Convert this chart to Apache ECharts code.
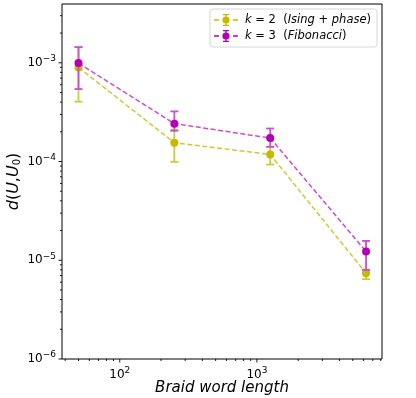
<!DOCTYPE html>
<html><head><meta charset="utf-8">
<script src="https://cdn.jsdelivr.net/npm/echarts@6/dist/echarts.min.js"></script>
<style>html,body{margin:0;padding:0;background:#fff}#c{width:416px;height:398px}</style>
</head><body><div id="c"></div>
<script>
const braidLengths = [50, 250, 1250, 6250];
const k2Values = [0.000897, 0.000155, 0.000118, 0.0000074];
const k2Low = [0.000404, 0.0000993, 0.0000933, 0.00000643];
const k2High = [0.00144, 0.000209, 0.000141, 0.00000798];
const k3Values = [0.000993, 0.000242, 0.000173, 0.0000123];
const k3Low = [0.000542, 0.000205, 0.000141, 0.00000798];
const k3High = [0.00144, 0.000322, 0.000216, 0.0000157];
const xMajorTicks = [100, 1000];
const xMinorTicks = [40, 50, 60, 70, 80, 90, 200, 300, 400, 500, 600, 700, 800, 900, 2000, 3000, 4000, 5000, 6000, 7000, 8000];
const yMajorTicks = [1e-6, 1e-5, 1e-4, 1e-3];
const yMinorTicks = [];
for (let e = -6; e <= -3; e++) for (let m = 2; m <= 9; m++) { const v = m * Math.pow(10, e); if (v < 0.0039) yMinorTicks.push(v); }

const X_MIN = 37.9, X_MAX = 8170, Y_MIN = 1e-6, Y_MAX = 0.00394;
const FONT = 'DejaVu Sans';
const k2Color = '#c8b800', k2Light = '#cccc33';
const k3Color = '#b400b4', k3Light = '#d04cd0';

function isPow10(v) { const l = Math.log10(v); return Math.abs(l - Math.round(l)) < 1e-6; }
function powLabel(v) {
  if (!isPow10(v)) return '';
  const e = Math.round(Math.log10(v));
  return '10{sup|' + String(e).replace('-', '\u2212') + '}';
}
const supRich = { sup: { fontSize: 9, fontFamily: FONT, color: '#000', padding: [0, 0, 8, 0] } };

function errData(xs, lo, hi) { return xs.map((x, i) => [x, lo[i], hi[i]]); }
function errRender(color) {
  return function (params, api) {
    const x = api.value(0);
    const p1 = api.coord([x, api.value(1)]);
    const p2 = api.coord([x, api.value(2)]);
    const w = 4;
    const st = { stroke: color, lineWidth: 1.8 };
    return { type: 'group', children: [
      { type: 'line', shape: { x1: p1[0], y1: p1[1], x2: p2[0], y2: p2[1] }, style: st },
      { type: 'line', shape: { x1: p1[0] - w, y1: p1[1], x2: p1[0] + w, y2: p1[1] }, style: st },
      { type: 'line', shape: { x1: p2[0] - w, y1: p2[1], x2: p2[0] + w, y2: p2[1] }, style: st }
    ]};
  };
}
function tickRender(axis) {
  return function (params, api) {
    const cs = params.coordSys;
    const v = api.value(0), len = api.value(1);
    let shape;
    if (axis === 'x') {
      const p = api.coord([v, Y_MIN]);
      shape = { x1: p[0], y1: cs.y + cs.height, x2: p[0], y2: cs.y + cs.height + len };
    } else {
      const p = api.coord([X_MIN, v]);
      shape = { x1: cs.x, y1: p[1], x2: cs.x - len, y2: p[1] };
    }
    return { type: 'line', shape: shape, style: { stroke: '#000', lineWidth: 0.9 } };
  };
}

const iconPath = 'path://M11.3 0 H12.7 V12 H11.3 Z M9 0 H15 V1.3 H9 Z M9 10.7 H15 V12 H9 Z M8.4 6 A3.6 3.6 0 1 1 15.6 6 A3.6 3.6 0 1 1 8.4 6 Z M0 5.3 H5 V6.7 H0 Z M19 5.3 H24 V6.7 H19 Z';

const chart = echarts.init(document.getElementById('c'));
chart.setOption({
  animation: false,
  backgroundColor: '#fff',
  textStyle: { fontFamily: FONT },
  grid: { left: 62, right: 34, top: 4, bottom: 39, containLabel: false, outerBoundsMode: 'none', show: true, borderColor: '#000', borderWidth: 1, backgroundColor: 'transparent' },
  legend: {
    orient: 'vertical', right: 39, top: 9, padding: [5, 6, 5, 4],
    itemWidth: 24, itemHeight: 12, itemGap: 4,
    backgroundColor: '#fff', borderColor: '#d6d6d6', borderWidth: 1, borderRadius: 3,
    data: [
      { name: 'k2', icon: iconPath, itemStyle: { color: k2Color } },
      { name: 'k3', icon: iconPath, itemStyle: { color: k3Color } }
    ],
    formatter: function (n) {
      return n === 'k2' ? '{i|k} = 2  ({i|Ising} + {i|phase})' : '{i|k} = 3  ({i|Fibonacci})';
    },
    textStyle: { fontSize: 11.5, fontFamily: FONT, color: '#000', padding: [0, 0, 0, 2], rich: { i: { fontStyle: 'italic', fontSize: 11.5, fontFamily: FONT } } }
  },
  xAxis: {
    type: 'log', logBase: 10, min: X_MIN, max: X_MAX,
    axisLine: { show: false }, axisTick: { show: false }, splitLine: { show: false },
    axisLabel: { formatter: powLabel, fontSize: 12, fontFamily: FONT, color: '#000', margin: 7, rich: supRich, showMinLabel: false, showMaxLabel: false },
    name: 'Braid word length', nameLocation: 'middle', nameGap: 22, nameMoveOverlap: false,
    nameTextStyle: { fontSize: 15, fontStyle: 'italic', fontFamily: FONT, color: '#000' }
  },
  yAxis: {
    type: 'log', logBase: 10, min: Y_MIN, max: Y_MAX,
    axisLine: { show: false }, axisTick: { show: false }, splitLine: { show: false },
    axisLabel: { formatter: powLabel, fontSize: 12, fontFamily: FONT, color: '#000', margin: 6, rich: supRich, showMaxLabel: false },
    name: '{i|d}({i|U},{i|U}{sub|0})', nameLocation: 'middle', nameGap: 40, nameRotate: 90, nameMoveOverlap: false,
    nameTextStyle: { fontSize: 16, fontFamily: FONT, color: '#000',
      rich: { i: { fontStyle: 'italic', fontSize: 16, fontFamily: FONT }, sub: { fontSize: 10, fontFamily: FONT, padding: [7, 0, 0, 0] } } }
  },
  series: [
    { type: 'custom', name: 'xticks', renderItem: tickRender('x'), clip: false, silent: true, z: 5,
      data: xMajorTicks.map(v => [v, 3.5]).concat(xMinorTicks.map(v => [v, 2])) },
    { type: 'custom', name: 'yticks', renderItem: tickRender('y'), clip: false, silent: true, z: 5,
      data: yMajorTicks.map(v => [v, 3.5]).concat(yMinorTicks.map(v => [v, 2])) },
    { type: 'custom', name: 'k2err', renderItem: errRender(k2Light), data: errData(braidLengths, k2Low, k2High), z: 2, silent: true },
    { type: 'line', name: 'k2', data: braidLengths.map((x, i) => [x, k2Values[i]]), symbol: 'circle', symbolSize: 8, showSymbol: true,
      lineStyle: { color: k2Light, width: 1.5, type: [5, 2.5] }, itemStyle: { color: k2Color }, z: 3 },
    { type: 'custom', name: 'k3err', renderItem: errRender(k3Light), data: errData(braidLengths, k3Low, k3High), z: 4, silent: true },
    { type: 'line', name: 'k3', data: braidLengths.map((x, i) => [x, k3Values[i]]), symbol: 'circle', symbolSize: 8, showSymbol: true,
      lineStyle: { color: k3Light, width: 1.5, type: [5, 2.5] }, itemStyle: { color: k3Color }, z: 5 }
  ]
});
</script></body></html>
